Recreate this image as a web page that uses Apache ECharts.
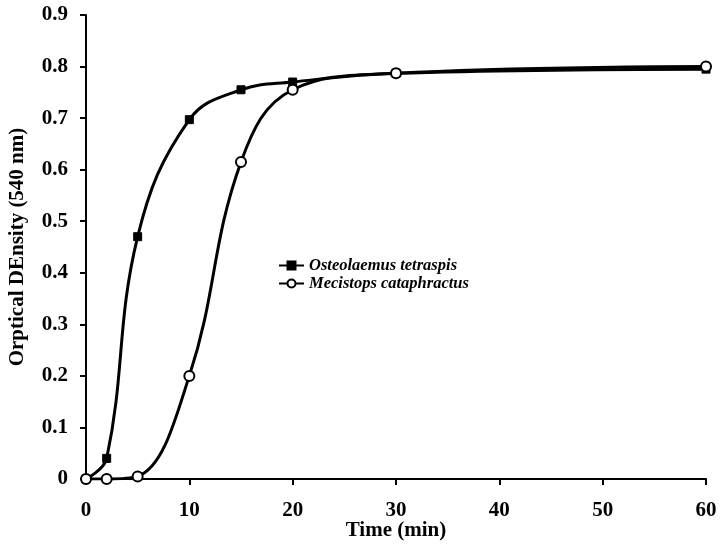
<!DOCTYPE html>
<html><head><meta charset="utf-8">
<script src="https://cdn.jsdelivr.net/npm/echarts@6/dist/echarts.min.js"></script>
<style>html,body{margin:0;padding:0;background:#fff}#c{width:727px;height:546px}</style>
</head><body><div id="c"></div>
<script>
const timeMin = [0, 2, 5, 10, 15, 20, 30, 60];
const osteolaemus = [0, 0.04, 0.47, 0.697, 0.755, 0.77, 0.787, 0.795];
const mecistops = [0, 0, 0.005, 0.2, 0.615, 0.755, 0.787, 0.80];
const seriesNames = ['Osteolaemus tetraspis', 'Mecistops cataphractus'];

const pair = (xs, ys) => xs.map((x, i) => [x, ys[i]]);
const font = 'Liberation Serif';
const chart = echarts.init(document.getElementById('c'));
chart.setOption({
  animation: false,
  backgroundColor: '#fff',
  grid: {left: 86, right: 21, top: 15, bottom: 67, containLabel: false, outerBoundsMode: 'none'},
  legend: {
    left: 273, top: 252, orient: 'vertical', itemGap: 1, itemWidth: 25, itemHeight: 10,
    textStyle: {fontFamily: font, fontStyle: 'italic', fontWeight: 'bold', fontSize: 16.5, color: '#000'},
    data: seriesNames
  },
  xAxis: {
    type: 'value', min: 0, max: 60, interval: 10,
    name: 'Time (min)', nameLocation: 'middle', nameGap: 41, nameMoveOverlap: false,
    nameTextStyle: {fontFamily: font, fontWeight: 'bold', fontSize: 21, color: '#000'},
    axisLine: {show: true, lineStyle: {color: '#000', width: 2}},
    axisTick: {show: true, inside: false, length: 6, lineStyle: {color: '#000', width: 2}},
    axisLabel: {fontFamily: font, fontWeight: 'bold', fontSize: 21, color: '#000', margin: 21},
    splitLine: {show: false}
  },
  yAxis: {
    type: 'value', min: 0, max: 0.9, interval: 0.1,
    name: 'Orptical DEnsity (540 nm)', nameLocation: 'middle', nameGap: 58, nameRotate: 90,
    nameTextStyle: {fontFamily: font, fontWeight: 'bold', fontSize: 21, color: '#000'},
    axisLine: {show: true, lineStyle: {color: '#000', width: 2}},
    axisTick: {show: true, inside: false, length: 6, lineStyle: {color: '#000', width: 2}},
    axisLabel: {fontFamily: font, fontWeight: 'bold', fontSize: 21, color: '#000', margin: 18,
      formatter: v => v === 0 ? '0' : v.toFixed(1)},
    splitLine: {show: false}
  },
  series: [
    {
      name: seriesNames[0], type: 'line', smooth: 0.4,
      data: pair(timeMin, osteolaemus),
      symbol: 'rect', symbolSize: 8, showAllSymbol: true,
      lineStyle: {color: '#000', width: 3},
      itemStyle: {color: '#000', borderColor: '#000', borderWidth: 1}
    },
    {
      name: seriesNames[1], type: 'line', smooth: 0.4,
      data: pair(timeMin, mecistops),
      symbol: 'circle', symbolSize: 10, showAllSymbol: true,
      lineStyle: {color: '#000', width: 3},
      itemStyle: {color: '#fff', borderColor: '#000', borderWidth: 2}
    }
  ]
});
</script></body></html>
